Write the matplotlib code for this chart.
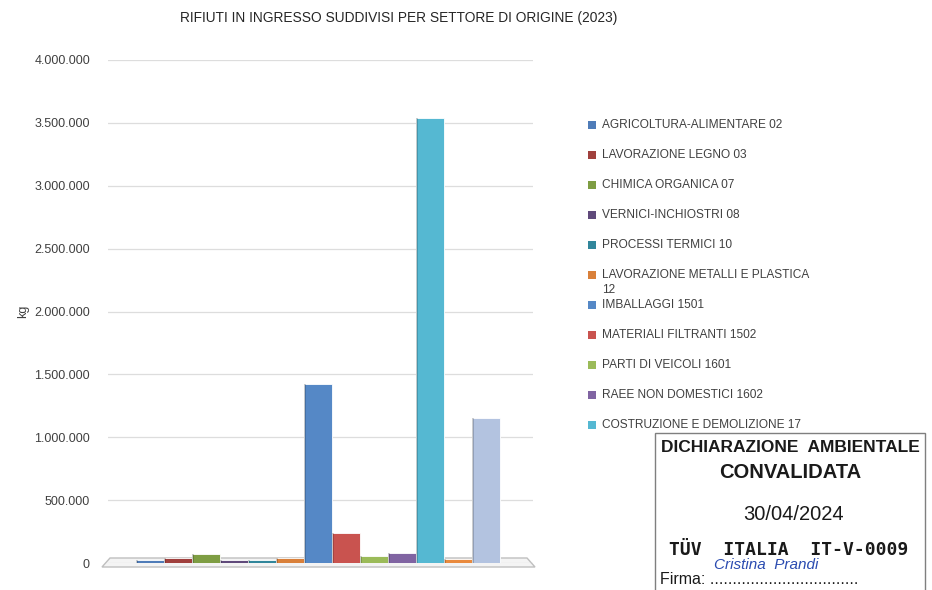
"""
Rifiuti in ingresso suddivisi per settore di origine (2023)
Column chart in kg, with the validation stamp in the bottom right corner.
"""

import matplotlib
matplotlib.use("Agg")
import matplotlib.pyplot as plt
import matplotlib.ticker as mticker
from matplotlib.patches import Rectangle, Polygon


# ─── Data ──────────────────────────────────────────────────────────────────────

SECTORS = [
    "AGRICOLTURA-ALIMENTARE 02",
    "LAVORAZIONE LEGNO 03",
    "CHIMICA ORGANICA 07",
    "VERNICI-INCHIOSTRI 08",
    "PROCESSI TERMICI 10",
    "LAVORAZIONE METALLI E PLASTICA\n12",
    "IMBALLAGGI 1501",
    "MATERIALI FILTRANTI 1502",
    "PARTI DI VEICOLI 1601",
    "RAEE NON DOMESTICI 1602",
    "COSTRUZIONE E DEMOLIZIONE 17",
    "",   # hidden under the stamp
    "",   # hidden under the stamp
]

KG = [25000, 42000, 68000, 25000, 22000, 42000, 1420000,
      240000, 55000, 80000, 3540000, 35000, 1150000]

COLORS = ["#4F7CB8", "#A0403D", "#7E9D43", "#604A7B", "#31869B", "#D9803A",
          "#5588C6", "#C9534F", "#9BBB59", "#8064A2", "#55B8D2", "#E98A3E",
          "#B3C3E0"]

Y_TICKS = [0, 500000, 1000000, 1500000, 2000000, 2500000, 3000000,
           3500000, 4000000]

TITLE = "RIFIUTI IN INGRESSO SUDDIVISI PER SETTORE DI ORIGINE (2023)"

W, H = 932, 590
FONT = "Liberation Sans"


def fx(px):
    return px / W


def fy(py):
    return 1 - py / H


def dotted(v, pos=None):
    return f"{int(v):,}".replace(",", ".")


# ─── Figure ────────────────────────────────────────────────────────────────────

fig = plt.figure(figsize=(W / 100, H / 100), dpi=100, facecolor="white")

# floor of the chart, drawn first so the bars sit on top of it
floor = Polygon([(fx(102), fy(567)), (fx(110), fy(558)),
                 (fx(527), fy(558)), (fx(535), fy(567))],
                closed=True, transform=fig.transFigure,
                facecolor="#F4F4F4", edgecolor="#BFBFBF", linewidth=1.0, zorder=-1)
fig.patches.append(floor)

# axes: x from 108 to 533 px, y: 0 at 563 px, 4.000.000 at 60 px
ax = fig.add_axes([fx(108), fy(563), fx(533) - fx(108), fy(60) - fy(563)])
ax.patch.set_visible(False)

x = list(range(len(KG)))
ax.bar(x, KG, width=1.0, color=COLORS, edgecolor="white", linewidth=0.6, zorder=3)
# darker left side, a hint of the 3D look
for xi, v in zip(x, KG):
    ax.bar(xi - 0.47, v, width=0.06, color="black", alpha=0.18, zorder=4)

ax.set_xlim(-1.5, 13.68)
ax.set_ylim(0, 4000000)
ax.set_yticks(Y_TICKS)
ax.yaxis.set_major_formatter(mticker.FuncFormatter(dotted))
ax.set_xticks([])
ax.tick_params(axis="y", length=0, pad=13, labelsize=9, labelcolor="#404040")
for lab in ax.get_yticklabels():
    lab.set_fontfamily(FONT)
ax.grid(axis="y", color="#DDDDDD", linewidth=0.9, zorder=0)
for s in ax.spines.values():
    s.set_visible(False)

ax.set_ylabel("kg", fontsize=9, fontfamily=FONT, color="#404040", labelpad=4)

fig.text(fx(399), fy(18), TITLE, ha="center", va="center",
         fontsize=9.9, fontfamily=FONT, color="#262626")

# ─── Legend (manual, as in the original layout) ────────────────────────────────

ly = 125
for label, col in zip(SECTORS, COLORS):
    if not label:
        continue
    fig.patches.append(Rectangle((fx(588), fy(ly + 4)), fx(8), 8 / H,
                                 transform=fig.transFigure, facecolor=col,
                                 edgecolor="none"))
    lines = label.split("\n")
    fig.text(fx(602), fy(ly), lines[0], ha="left", va="center",
             fontsize=8.6, fontfamily=FONT, color="#404040")
    if len(lines) > 1:
        fig.text(fx(602), fy(ly + 15), lines[1], ha="left", va="center",
                 fontsize=8.6, fontfamily=FONT, color="#404040")
    ly += 30

# ─── Validation stamp ──────────────────────────────────────────────────────────

fig.patches.append(Rectangle((fx(655), fy(600)), fx(925) - fx(655), (600 - 433) / H,
                             transform=fig.transFigure, facecolor="white",
                             edgecolor="#7F7F7F", linewidth=1.0, zorder=5))

fig.text(fx(790), fy(447), "DICHIARAZIONE  AMBIENTALE", ha="center", va="center",
         fontsize=12.5, fontweight="bold", fontfamily=FONT, fontstretch="condensed",
         color="#1A1A1A", zorder=6)
fig.text(fx(790), fy(472), "CONVALIDATA", ha="center", va="center",
         fontsize=14.5, fontweight="bold", fontfamily=FONT, color="#1A1A1A", zorder=6)
fig.text(fx(794), fy(514), "30/04/2024", ha="center", va="center",
         fontsize=14.5, fontfamily=FONT, color="#1A1A1A", zorder=6)
fig.text(fx(789), fy(550), "TÜV  ITALIA  IT-V-0009", ha="center", va="center",
         fontsize=13, fontweight="bold", fontfamily="DejaVu Sans Mono",
         color="#1A1A1A", zorder=6)
fig.text(fx(660), fy(579), "Firma: .................................", ha="left",
         va="center", fontsize=11.5, fontfamily=FONT, color="#1A1A1A", zorder=6)
fig.text(fx(714), fy(565), "Cristina  Prandi", ha="left", va="center",
         fontsize=11, style="italic", fontfamily=FONT, color="#2A4BB0", zorder=7)

fig.savefig("out.png", dpi=100, facecolor="white")
